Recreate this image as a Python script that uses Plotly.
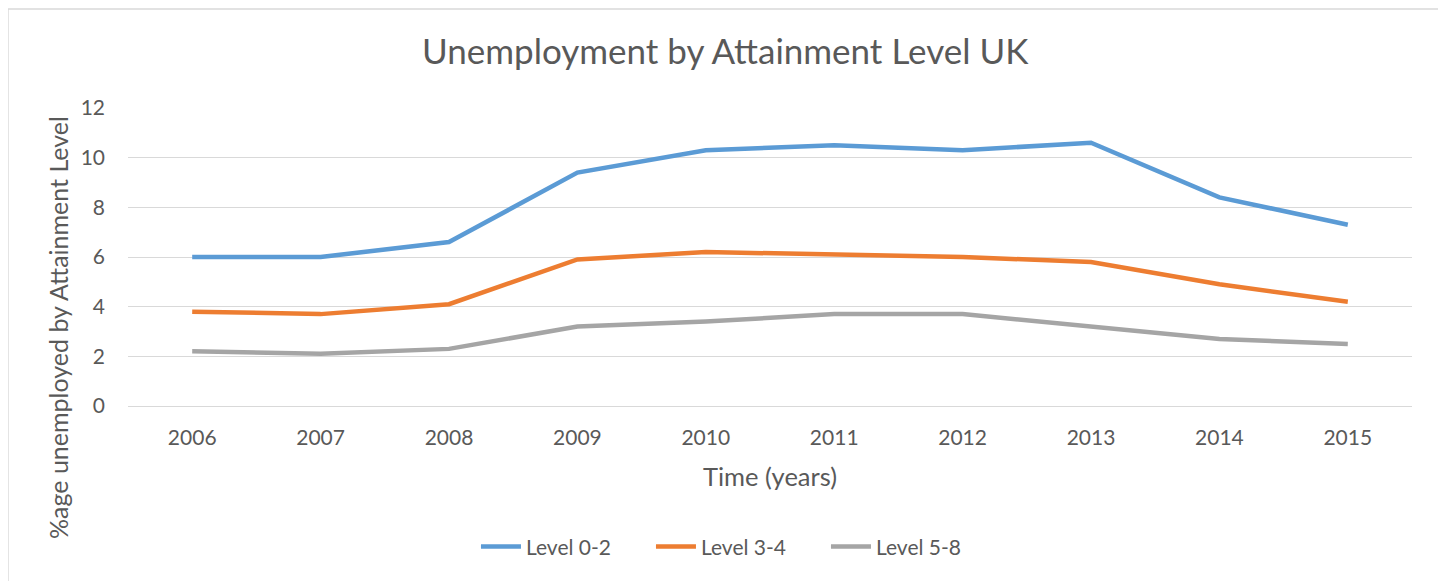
import plotly.graph_objects as go

years = ["2006", "2007", "2008", "2009", "2010", "2011", "2012", "2013", "2014", "2015"]
level_0_2 = [6.0, 6.0, 6.6, 9.4, 10.3, 10.5, 10.3, 10.6, 8.4, 7.3]
level_3_4 = [3.8, 3.7, 4.1, 5.9, 6.2, 6.1, 6.0, 5.8, 4.9, 4.2]
level_5_8 = [2.2, 2.1, 2.3, 3.2, 3.4, 3.7, 3.7, 3.2, 2.7, 2.5]

series = [
    ("Level 0-2", level_0_2, "#5B9BD5"),
    ("Level 3-4", level_3_4, "#ED7D31"),
    ("Level 5-8", level_5_8, "#A5A5A5"),
]

FONT = "Lato, 'Open Sans', sans-serif"
TXT = "#595959"

fig = go.Figure()
for name, vals, col in series:
    fig.add_trace(go.Scatter(
        x=years, y=vals, name=name, mode="lines",
        line=dict(color=col, width=4.5, shape="linear"),
    ))

fig.update_layout(
    width=1446, height=581,
    paper_bgcolor="white", plot_bgcolor="white",
    margin=dict(l=120, r=42, t=100, b=183, autoexpand=False),
    font=dict(family=FONT, color=TXT, size=20),
    title=dict(text="Unemployment by Attainment Level UK", x=0.496, xanchor="center",
               xref="container",
               y=1 - 44 / 581, yanchor="middle", font=dict(size=35, color=TXT, family=FONT)),
    showlegend=True,
    legend=dict(orientation="h", x=0.271, xanchor="left", y=-0.473, yanchor="middle",
                font=dict(size=21, color=TXT), itemwidth=40, entrywidth=120,
                entrywidthmode="pixels"),
    xaxis=dict(type="category", range=[-0.5, 9.5], showgrid=False, showline=True,
               linecolor="#D9D9D9", linewidth=1, ticks="", automargin=False,
               tickfont=dict(size=21, color=TXT), ticklabelstandoff=13,
               title=dict(text="Time (years)", font=dict(size=25.5, color=TXT), standoff=19)),
    yaxis=dict(range=[0, 12], dtick=2, showgrid=True, gridcolor="#D9D9D9", gridwidth=1,
               zeroline=False, showline=False, ticks="", automargin=False,
               tickfont=dict(size=21, color=TXT), ticklabelstandoff=22),
    annotations=[dict(text="%age unemployed by Attainment Level", textangle=-90,
                      xref="paper", yref="paper", x=-0.0545, y=0.262,
                      xanchor="center", yanchor="middle", showarrow=False,
                      font=dict(size=25, color=TXT, family=FONT))],
    shapes=[dict(type="rect", xref="paper", yref="paper", x0=-0.0935, x1=1.0218, y0=-0.62, y1=1.332,
                 line=dict(color="#D9D9D9", width=1.5), fillcolor="rgba(0,0,0,0)", layer="below")],
)

fig.write_html("out.html")
